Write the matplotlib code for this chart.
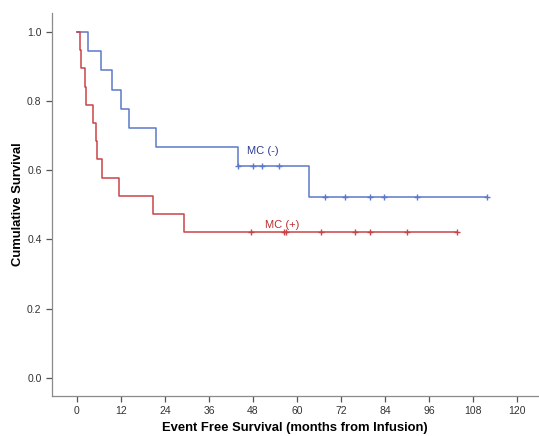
import matplotlib
matplotlib.use("Agg")
import matplotlib.pyplot as plt
import numpy as np

plt.rcParams['font.family'] = ['Liberation Sans', 'DejaVu Sans']

# MC (-) group: event times (months) and survival after each step
neg_times = [0, 2.9, 6.5, 9.5, 11.9, 14.2, 21.5, 43.8, 63.4]
neg_surv = [1.0, 0.944, 0.889, 0.833, 0.778, 0.722, 0.667, 0.611, 0.524]
neg_end = 111.7
neg_censor = [43.8, 48.1, 50.5, 55.2, 67.7, 73.0, 80.0, 83.8, 92.7, 111.7]

# MC (+) group
pos_times = [0, 0.8, 1.0, 2.3, 2.5, 4.3, 5.2, 5.4, 6.8, 11.4, 20.6, 29.3]
pos_surv = [1.0, 0.947, 0.895, 0.842, 0.789, 0.737, 0.684, 0.632, 0.579, 0.526, 0.474, 0.421]
pos_end = 103.7
pos_censor = [47.4, 56.5, 57.0, 66.5, 75.7, 79.8, 89.9, 103.7]

x_ticks = [0, 12, 24, 36, 48, 60, 72, 84, 96, 108, 120]
y_ticks = [0.0, 0.2, 0.4, 0.6, 0.8, 1.0]

blue = '#5b79c9'
red = '#c94448'

fig = plt.figure(figsize=(5.39, 4.36), dpi=100)
ax = fig.add_axes([52/539, 1-396/436, 486/539, (396-13)/436])

def surv_at(times, surv, t):
    idx = np.searchsorted(times, t, side='right') - 1
    return surv[idx]

for times, surv, end, cens, col in [(neg_times, neg_surv, neg_end, neg_censor, blue),
                                     (pos_times, pos_surv, pos_end, pos_censor, red)]:
    xs = list(times) + [end]
    ys = list(surv) + [surv[-1]]
    ax.step(xs, ys, where='post', color=col, lw=1.1)
    cy = [surv_at(times, surv, c) for c in cens]
    ax.plot(cens, cy, ls='none', marker='+', ms=5, mew=1.0, color=col)

ax.text(50.7, 0.656, 'MC (-)', color='#2e3d8f', fontsize=8, ha='center', va='center')
ax.text(55.9, 0.443, 'MC (+)', color='#b8302f', fontsize=8, ha='center', va='center')

ax.set_xlim(-6.8, 125.7)
ax.set_ylim(-0.053, 1.055)
ax.set_xticks(x_ticks)
ax.set_yticks(y_ticks)
ax.set_xticklabels([str(v) for v in x_ticks])
ax.set_yticklabels([f'{v:.1f}' for v in y_ticks])
for s in ['top', 'right']:
    ax.spines[s].set_visible(False)
for s in ['left', 'bottom']:
    ax.spines[s].set_color('#8a8a8a')
    ax.spines[s].set_linewidth(0.9)
ax.tick_params(axis='both', colors='#555555', labelsize=7.5, length=4, width=0.9, direction='out')
ax.tick_params(axis='both', labelcolor='#333333')

ax.set_xlabel('Event Free Survival (months from Infusion)', fontsize=9.4, fontweight='bold', va='center')
ax.set_ylabel('Cumulative Survival', fontsize=9.4, fontweight='bold', va='center')
ax.xaxis.set_label_coords(0.5, (396-428)/383)
ax.yaxis.set_label_coords((18-52)/486, 0.5)

fig.savefig('out.png', dpi=100)
